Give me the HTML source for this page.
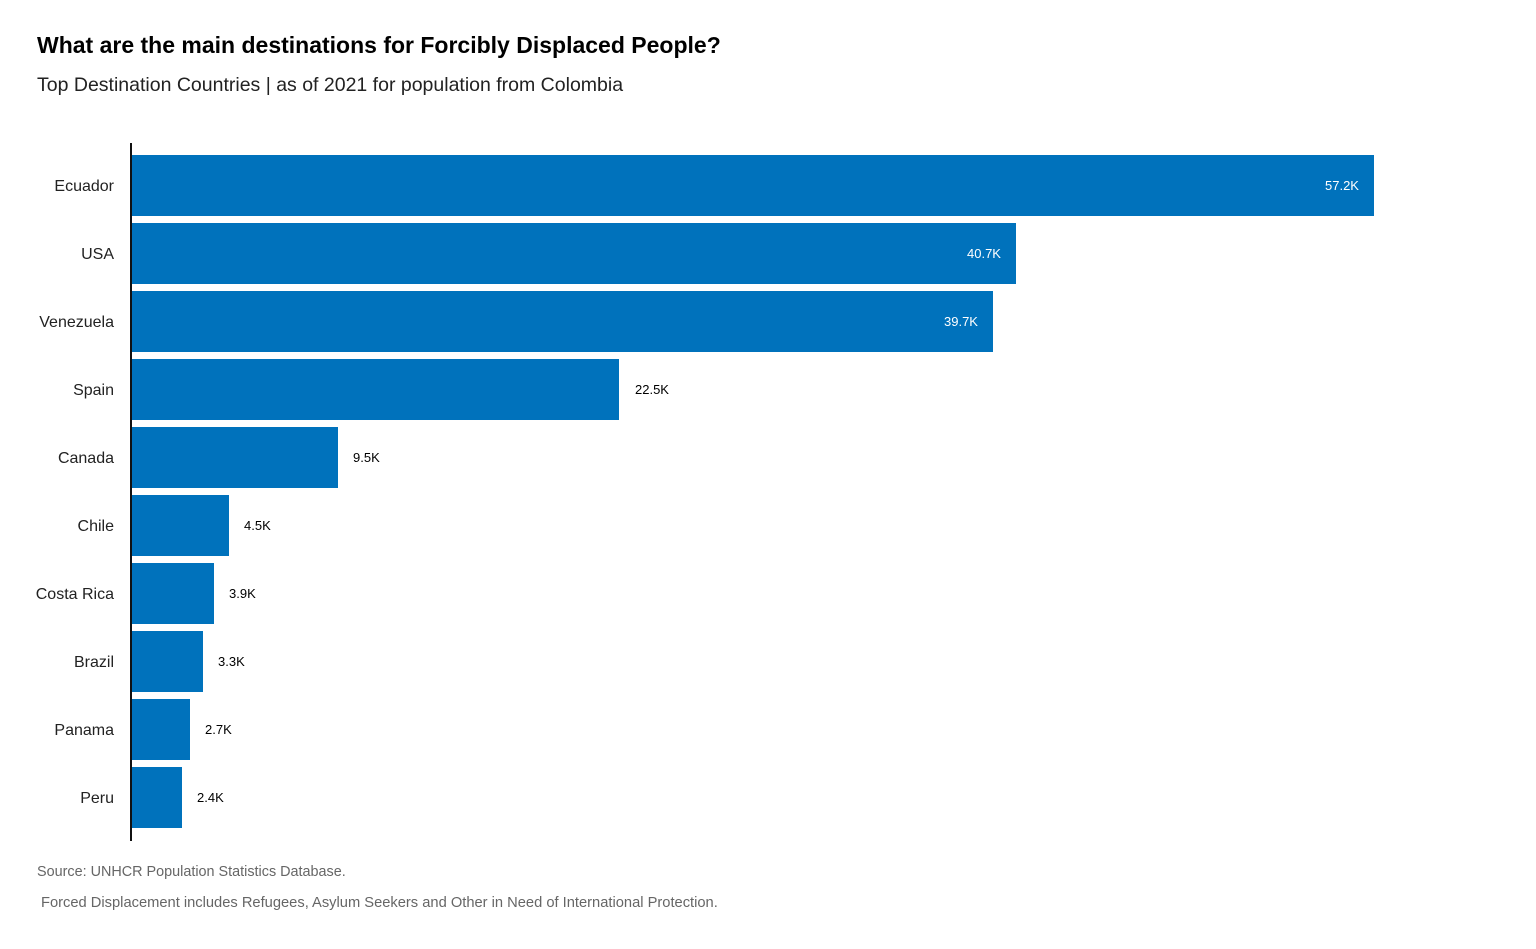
<!DOCTYPE html>
<html><head><meta charset="utf-8"><style>
body{margin:0;background:#fff;width:1536px;height:949px;position:relative;font-family:"Liberation Sans",sans-serif;overflow:hidden}
.t{position:absolute;white-space:nowrap}
.bar{position:absolute;left:132px;height:61px;background:#0072bc}
.lab{position:absolute;right:1422px;font-size:16px;color:#222;line-height:20px}
.v{position:absolute;font-size:13px;line-height:16px}
</style></head><body>
<div class="t" style="left:37px;top:32px;font-size:23px;font-weight:bold;color:#000">What are the main destinations for Forcibly Displaced People?</div>
<div class="t" style="left:37px;top:74px;font-size:19.5px;color:#222">Top Destination Countries | as of 2021 for population from Colombia</div>
<div style="position:absolute;left:130px;top:143px;width:2px;height:698px;background:#111"></div>

<div class="bar" style="top:155px;width:1242px"></div><div class="lab" style="top:177px">Ecuador</div><div class="v" style="left:1325px;top:178px;color:#fff">57.2K</div>
<div class="bar" style="top:223px;width:884px"></div><div class="lab" style="top:245px">USA</div><div class="v" style="left:967px;top:246px;color:#fff">40.7K</div>
<div class="bar" style="top:291px;width:861px"></div><div class="lab" style="top:313px">Venezuela</div><div class="v" style="left:944px;top:314px;color:#fff">39.7K</div>
<div class="bar" style="top:359px;width:487px"></div><div class="lab" style="top:381px">Spain</div><div class="v" style="left:635px;top:382px">22.5K</div>
<div class="bar" style="top:427px;width:206px"></div><div class="lab" style="top:449px">Canada</div><div class="v" style="left:353px;top:450px">9.5K</div>
<div class="bar" style="top:495px;width:97px"></div><div class="lab" style="top:517px">Chile</div><div class="v" style="left:244px;top:518px">4.5K</div>
<div class="bar" style="top:563px;width:82px"></div><div class="lab" style="top:585px">Costa Rica</div><div class="v" style="left:229px;top:586px">3.9K</div>
<div class="bar" style="top:631px;width:71px"></div><div class="lab" style="top:653px">Brazil</div><div class="v" style="left:218px;top:654px">3.3K</div>
<div class="bar" style="top:699px;width:58px"></div><div class="lab" style="top:721px">Panama</div><div class="v" style="left:205px;top:722px">2.7K</div>
<div class="bar" style="top:767px;width:50px"></div><div class="lab" style="top:789px">Peru</div><div class="v" style="left:197px;top:790px">2.4K</div>

<div class="t" style="left:37px;top:864px;font-size:14.4px;color:#666">Source: UNHCR Population Statistics Database.</div>
<div class="t" style="left:41px;top:895px;font-size:14.7px;color:#666">Forced Displacement includes Refugees, Asylum Seekers and Other in Need of International Protection.</div>
</body></html>
